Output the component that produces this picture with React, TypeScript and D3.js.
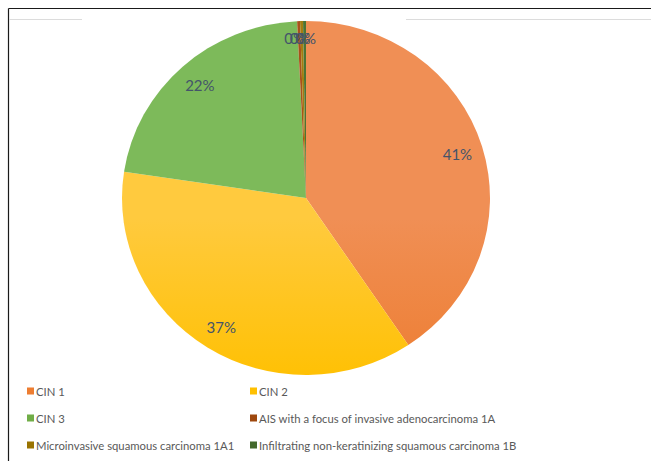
import React from "react";
import * as d3 from "d3";

const categories = [
  "CIN 1",
  "CIN 2",
  "CIN 3",
  "AIS with a focus of invasive adenocarcinoma 1A",
  "Microinvasive squamous carcinoma 1A1",
  "Infiltrating non-keratinizing squamous carcinoma 1B",
];
const counts = [158, 143, 85, 1, 1, 1];
const baseColors = ["#ED7D31", "#FFC000", "#70AD47", "#9E480E", "#997300", "#43682B"];
const topColors = ["#F08F55", "#FFCA3E", "#7DBA5A", "#A8521A", "#A37D10", "#4C7434"];
const bottomColors = ["#E26719", "#EBAD00", "#5F9E36", "#8E3E08", "#8A6700", "#3A5C24"];

const W = 651;
const H = 461;
const cx = 306;
const cy = 198;
const rx = 184;
const ry = 177;

export default function App() {
  const total = d3.sum(counts);
  const pie = d3.pie<number>().sort(null).value((d) => d)(counts);
  const arc = d3.arc<d3.PieArcDatum<number>>().innerRadius(0).outerRadius(rx);
  const sy = ry / rx;
  const labelR = 0.86;

  const legendCols = [27, 250];
  const legendRows = [391, 418, 445];

  return (
    <svg
      width={W}
      height={H}
      style={{ position: "absolute", left: 0, top: 0, background: "#fff" }}
      fontFamily="Lato, 'Open Sans', sans-serif"
    >
      <defs>
        {categories.map((_, i) => (
          <linearGradient
            key={i}
            id={`g${i}`}
            gradientUnits="userSpaceOnUse"
            x1={0}
            y1={cy - ry}
            x2={0}
            y2={cy + ry}
          >
            <stop offset="0" stopColor={topColors[i]} />
            <stop offset="0.5" stopColor={baseColors[i]} />
            <stop offset="1" stopColor={bottomColors[i]} />
          </linearGradient>
        ))}
      </defs>
      <rect x={0} y={0} width={W} height={H} fill="#fff" />
      {/* frame */}
      <line x1={8.5} y1={8.5} x2={W} y2={8.5} stroke="#1a1a1a" strokeWidth={1.2} />
      <line x1={8.5} y1={8.5} x2={8.5} y2={H} stroke="#1a1a1a" strokeWidth={1.2} />
      <line x1={9} y1={19.5} x2={82} y2={19.5} stroke="#dcdcdc" strokeWidth={1} />
      <line x1={406} y1={19.5} x2={W} y2={19.5} stroke="#dcdcdc" strokeWidth={1} />

      <g transform={`translate(${cx},${cy}) scale(1,${sy})`}>
        {pie.map((p, i) => (
          <path key={i} d={arc(p) || ""} fill={`url(#g${i})`} stroke="none" />
        ))}
      </g>
      {pie.map((p, i) => {
        const a = (p.startAngle + p.endAngle) / 2;
        const x = cx + Math.sin(a) * rx * labelR;
        const y = cy - Math.cos(a) * ry * labelR;
        const pct = Math.round((counts[i] / total) * 100);
        const tiny = i >= 3;
        return (
          <text
            key={i}
            x={tiny ? x - 5 + (i - 3) * 3 : x}
            y={tiny ? y - 8 : y}
            textAnchor="middle"
            dominantBaseline="central"
            fontSize={15}
            fill="#44546A"
          >
            {pct + "%"}
          </text>
        );
      })}
      {categories.map((c, i) => {
        const col = i % 2;
        const row = Math.floor(i / 2);
        const x = legendCols[col];
        const y = legendRows[row];
        return (
          <g key={c}>
            <rect x={x} y={y - 3.5} width={7} height={7} fill={baseColors[i]} />
            <text x={x + 9} y={y} dominantBaseline="central" fontSize={11.3} fill="#595959">
              {c}
            </text>
          </g>
        );
      })}
    </svg>
  );
}
